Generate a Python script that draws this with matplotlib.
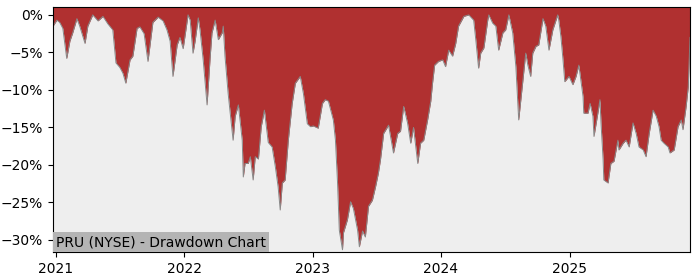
import numpy as np
import pandas as pd
import matplotlib
matplotlib.use('Agg')
import matplotlib.pyplot as plt
import matplotlib.dates as mdates
from matplotlib.ticker import FuncFormatter

# drawdown of PRU (percent)
dates = [
    '2020-12-24', '2021-01-04', '2021-01-12', '2021-01-21', '2021-02-01', '2021-02-10',
    '2021-02-18', '2021-03-02', '2021-03-10', '2021-03-25', '2021-04-02', '2021-04-16',
    '2021-05-01', '2021-05-15', '2021-05-29', '2021-06-12', '2021-06-21', '2021-07-02',
    '2021-07-11', '2021-07-19', '2021-07-31', '2021-08-08', '2021-08-20', '2021-08-28',
    '2021-09-09', '2021-09-20', '2021-10-04', '2021-10-19', '2021-11-02', '2021-11-13',
    '2021-11-22', '2021-11-30', '2021-12-12', '2021-12-20', '2021-12-29', '2022-01-03',
    '2022-01-12', '2022-01-18', '2022-01-26', '2022-02-01', '2022-02-10', '2022-02-15',
    '2022-02-24', '2022-03-07', '2022-03-16', '2022-03-21', '2022-03-30', '2022-04-08',
    '2022-04-19', '2022-04-22', '2022-04-27', '2022-05-06', '2022-05-17', '2022-05-20',
    '2022-05-26', '2022-06-04', '2022-06-15', '2022-06-18', '2022-06-23', '2022-07-02',
    '2022-07-08', '2022-07-16', '2022-07-22', '2022-07-31', '2022-08-08', '2022-08-17',
    '2022-08-28', '2022-09-08', '2022-09-17', '2022-09-25', '2022-10-01', '2022-10-07',
    '2022-10-15', '2022-10-24', '2022-11-04', '2022-11-13', '2022-11-27', '2022-12-06',
    '2022-12-17', '2022-12-26', '2023-01-03', '2023-01-17', '2023-01-29', '2023-02-06',
    '2023-02-15', '2023-02-26', '2023-03-01', '2023-03-07', '2023-03-13', '2023-03-18',
    '2023-03-27', '2023-03-30', '2023-04-10', '2023-04-19', '2023-04-27', '2023-05-09',
    '2023-05-14', '2023-05-23', '2023-05-31', '2023-06-09', '2023-06-20', '2023-06-29',
    '2023-07-07', '2023-07-13', '2023-07-22', '2023-08-05', '2023-08-19', '2023-08-31',
    '2023-09-08', '2023-09-17', '2023-09-28', '2023-10-07', '2023-10-15', '2023-10-27',
    '2023-11-04', '2023-11-13', '2023-11-24', '2023-12-03', '2023-12-08', '2023-12-14',
    '2023-12-25', '2024-01-06', '2024-01-14', '2024-01-23', '2024-02-03', '2024-02-12',
    '2024-02-20', '2024-03-06', '2024-03-20', '2024-04-03', '2024-04-09', '2024-04-17',
    '2024-04-23', '2024-05-02', '2024-05-13', '2024-05-16', '2024-05-27', '2024-06-05',
    '2024-06-13', '2024-06-25', '2024-07-03', '2024-07-12', '2024-07-23', '2024-08-01',
    '2024-08-09', '2024-08-21', '2024-08-29', '2024-09-04', '2024-09-12', '2024-09-18',
    '2024-09-27', '2024-10-05', '2024-10-17', '2024-10-25', '2024-11-03', '2024-11-14',
    '2024-11-23', '2024-11-28', '2024-12-01', '2024-12-07', '2024-12-13', '2024-12-18',
    '2024-12-30', '2025-01-10', '2025-01-19', '2025-01-27', '2025-02-08', '2025-02-10',
    '2025-02-22', '2025-02-28', '2025-03-08', '2025-03-11', '2025-03-22', '2025-03-28',
    '2025-03-31', '2025-04-06', '2025-04-08', '2025-04-20', '2025-04-28', '2025-05-07',
    '2025-05-18', '2025-05-21', '2025-06-02', '2025-06-10', '2025-06-19', '2025-06-30',
    '2025-07-09', '2025-07-17', '2025-07-29', '2025-08-06', '2025-08-15', '2025-08-26',
    '2025-09-04', '2025-09-12', '2025-09-18', '2025-09-26', '2025-10-08', '2025-10-13',
    '2025-10-25', '2025-11-05', '2025-11-14', '2025-11-19', '2025-11-28', '2025-12-04',
    '2025-12-09',
]
drawdown = [
    -1.5, -0.7, -1.0, -1.8, -5.8, -3.5,
    -2.4, -0.5, -1.5, -3.8, -1.5, 0.0,
    -0.8, -0.2, -1.2, -2.0, -6.4, -7.0,
    -7.8, -9.1, -6.0, -5.5, -1.8, -1.6,
    -2.5, -6.2, -1.0, -0.3, -0.8, -2.0,
    -3.5, -8.2, -4.0, -3.0, -4.5, -2.9,
    0.0, -0.7, -5.1, -3.5, -0.4, -2.0,
    -6.0, -12.0, -5.5, -2.4, -0.7, -3.3,
    -2.4, -1.5, -5.5, -10.5, -15.3, -16.7,
    -13.5, -12.0, -16.7, -21.6, -19.8, -19.8,
    -18.9, -22.0, -18.9, -19.2, -14.9, -12.7,
    -17.0, -17.6, -20.2, -22.9, -26.0, -22.4,
    -22.0, -16.7, -11.8, -9.1, -8.2, -10.5,
    -14.5, -14.9, -14.8, -15.1, -11.8, -11.3,
    -11.5, -13.5, -14.0, -16.7, -22.4, -28.7,
    -31.3, -29.0, -27.3, -24.9, -25.8, -28.7,
    -30.9, -28.8, -29.6, -25.5, -24.7, -22.9,
    -21.1, -19.3, -15.8, -14.7, -18.4, -15.8,
    -15.5, -12.2, -14.4, -17.1, -15.0, -19.8,
    -17.1, -16.7, -14.0, -11.5, -9.1, -6.7,
    -6.2, -6.0, -6.9, -4.7, -5.5, -3.8,
    -1.5, -0.2, 0.0, -0.7, -3.3, -7.1,
    -5.1, -4.4, -0.7, 0.0, -1.1, -1.5,
    -4.7, -2.4, -2.0, 0.0, -2.4, -6.9,
    -14.0, -8.7, -5.1, -6.7, -8.2, -5.1,
    -4.2, -4.0, -0.5, -1.5, -4.7, -2.0,
    -0.7, 0.0, -0.7, -2.9, -6.0, -8.9,
    -8.2, -9.3, -8.2, -6.7, -10.9, -13.1,
    -13.1, -11.8, -13.5, -16.2, -13.1, -11.3,
    -14.4, -19.3, -22.0, -22.4, -19.8, -19.5,
    -16.7, -18.0, -17.1, -16.7, -17.6, -14.4,
    -15.8, -17.6, -18.0, -18.9, -15.8, -12.7,
    -13.5, -14.9, -16.7, -17.1, -17.6, -18.4,
    -18.0, -14.9, -14.0, -15.3, -12.2, -9.6,
    -3.0,
]
title = 'PRU (NYSE) - Drawdown Chart'

x = pd.to_datetime(dates)
dd = np.array(drawdown)
top = 1.05
bottom = -31.6

fig = plt.figure(figsize=(7, 2.8), dpi=100)
ax = fig.add_axes([0.0757, 0.1, 0.91, 0.875])
ax.set_facecolor('#eeeeee')

ax.fill_between(x, dd, top, color='#b03030', linewidth=0)
ax.plot(x, dd, color='#888888', linewidth=0.7)

ax.set_xlim(x[0], x[-1])
ax.set_ylim(bottom, top)
ax.set_yticks([0, -5, -10, -15, -20, -25, -30])
ax.yaxis.set_major_formatter(FuncFormatter(lambda v, p: f'{v:.0f}%'.replace('-', '\u2212')))
ax.xaxis.set_major_locator(mdates.YearLocator())
ax.xaxis.set_major_formatter(mdates.DateFormatter('%Y'))
ax.tick_params(labelsize=10)

ax.text(0.005, 0.012, title, transform=ax.transAxes, fontsize=10, ha='left', va='bottom',
        bbox=dict(facecolor='#b4b4b4', edgecolor='none', pad=2))

plt.savefig('out.png', dpi=100)
